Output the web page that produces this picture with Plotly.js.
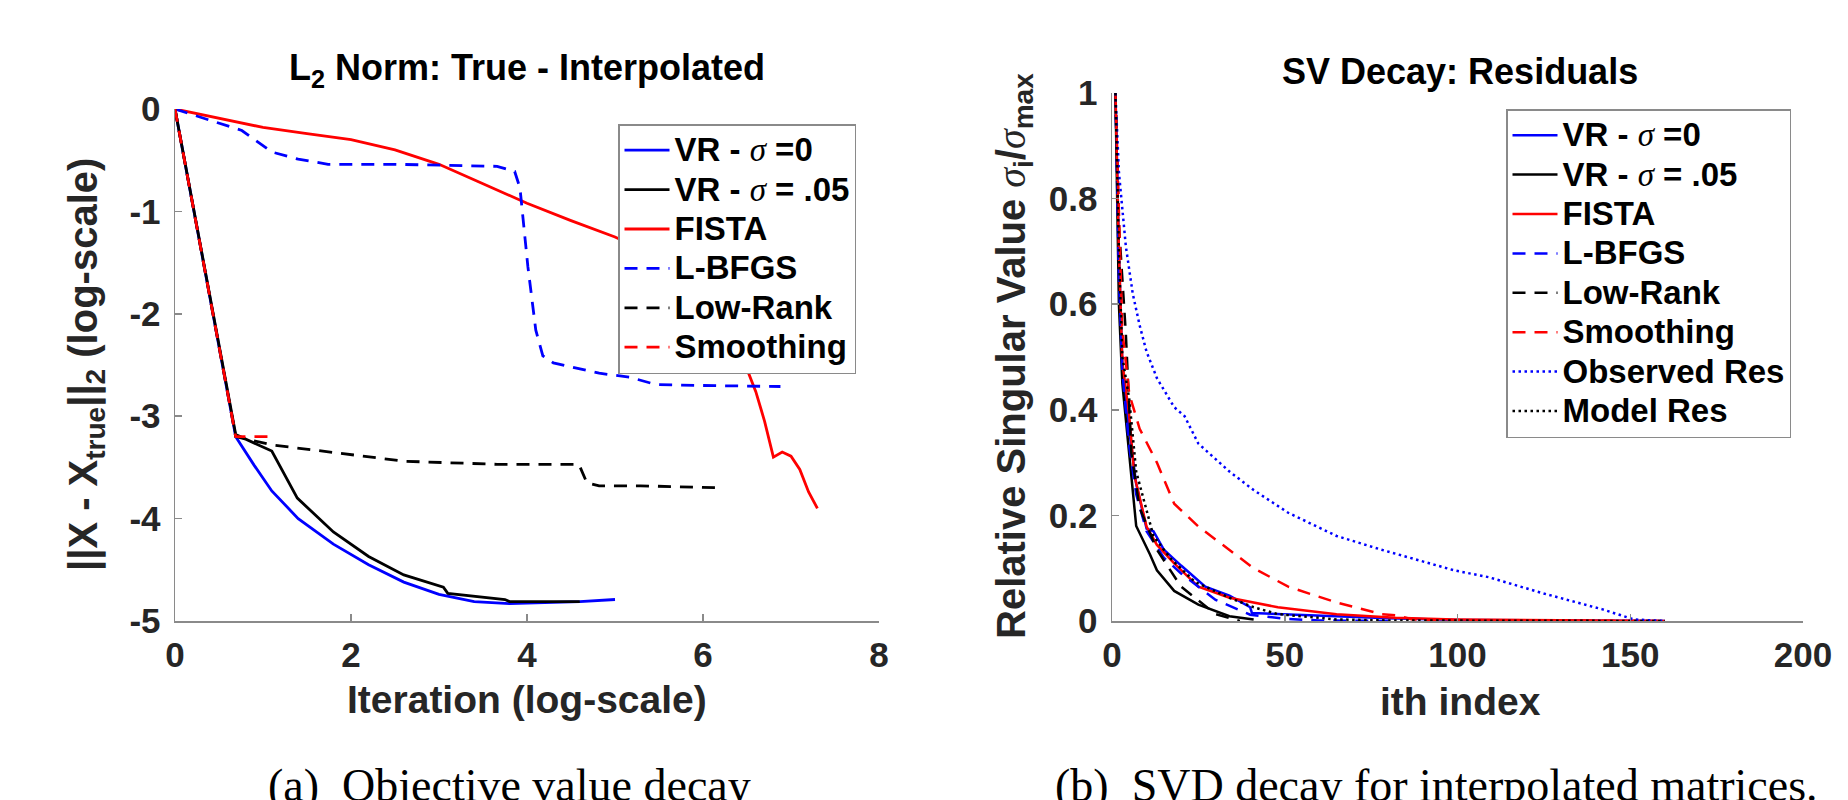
<!DOCTYPE html>
<html>
<head>
<meta charset="utf-8">
<script src="https://cdn.plot.ly/plotly-3.0.1.min.js"></script>
<style>html,body{margin:0;padding:0;background:#fff;}#chart{width:1848px;height:800px;}</style>
</head>
<body>
<div id="chart"></div>
<script>
// ---------- Left panel: L2 norm vs iteration (log-scale) ----------
const vr0X = [0, 0.69, 0.9, 1.1, 1.4, 1.8, 2.2, 2.6, 3.0, 3.4, 3.8, 4.2, 4.6, 5.0];
const vr0Y = [0, -3.2, -3.48, -3.73, -4.0, -4.25, -4.45, -4.62, -4.74, -4.81, -4.83, -4.82, -4.81, -4.79];
const vr05X = [0, 0.69, 1.1, 1.39, 1.8, 2.2, 2.6, 3.0, 3.05, 3.1, 3.5, 3.75, 3.8, 4.6];
const vr05Y = [0, -3.18, -3.34, -3.8, -4.13, -4.37, -4.55, -4.66, -4.67, -4.73, -4.77, -4.79, -4.81, -4.81];
const fistaX = [0, 0.5, 1.0, 1.5, 2.0, 2.5, 3.0, 3.5, 4.0, 4.5, 5.0, 5.5, 6.0, 6.3, 6.5, 6.6, 6.7, 6.8, 6.9, 7.0, 7.1, 7.2, 7.3];
const fistaY = [0, -0.09, -0.18, -0.24, -0.30, -0.40, -0.54, -0.73, -0.92, -1.09, -1.25, -1.45, -1.75, -2.1, -2.53, -2.76, -3.05, -3.40, -3.35, -3.39, -3.52, -3.74, -3.9];
const lbfgsX = [0, 0.35, 0.76, 1.1, 1.4, 1.74, 2.5, 3.66, 3.86, 3.92, 4.01, 4.10, 4.18, 4.30, 4.82, 5.17, 5.46, 5.98, 6.88];
const lbfgsY = [0, -0.10, -0.21, -0.42, -0.49, -0.54, -0.54, -0.56, -0.61, -0.77, -1.54, -2.16, -2.41, -2.48, -2.58, -2.62, -2.69, -2.70, -2.71];
const lowRankX = [0, 0.69, 1.1, 1.92, 2.61, 3.66, 4.59, 4.68, 4.82, 5.29, 6.22];
const lowRankY = [0, -3.2, -3.28, -3.37, -3.44, -3.47, -3.47, -3.65, -3.68, -3.68, -3.70];
const smoothX = [0, 0.69, 1.1];
const smoothY = [0, -3.2, -3.2];
const leftXTicks = [0, 2, 4, 6, 8];
const leftYTicks = [0, -1, -2, -3, -4, -5];
const leftYTickText = ['0', '-1', '-2', '-3', '-4', '-5'];

// ---------- Right panel: SV decay of residuals ----------
const svVr0X = [1, 2, 3, 5, 7, 10, 12, 15, 20, 27, 34, 40, 40.5, 48, 65, 80, 100, 160];
const svVr0Y = [1, 0.7, 0.48, 0.36, 0.26, 0.175, 0.17, 0.135, 0.105, 0.065, 0.048, 0.026, 0.015, 0.013, 0.009, 0.005, 0.002, 0.0];
const svVr05X = [1, 2, 3, 5, 7, 11, 13, 18, 25, 34, 41];
const svVr05Y = [1, 0.6, 0.45, 0.32, 0.18, 0.126, 0.096, 0.057, 0.031, 0.009, 0.003];
const svFistaX = [1, 2, 3, 5, 6.5, 10, 13, 18, 25, 34, 48, 65, 82, 99, 160];
const svFistaY = [1, 0.7, 0.49, 0.388, 0.275, 0.179, 0.144, 0.109, 0.065, 0.044, 0.026, 0.013, 0.006, 0.003, 0.0];
const svLbfgsX = [1, 2, 3, 5, 7, 10, 15, 20, 30, 40, 50, 60, 80];
const svLbfgsY = [1, 0.65, 0.47, 0.33, 0.24, 0.17, 0.12, 0.09, 0.04, 0.012, 0.004, 0.001, 0.0];
const svLowRankX = [1, 2, 4, 5.6, 8, 13, 20, 30, 37];
const svLowRankY = [1, 0.75, 0.545, 0.318, 0.214, 0.135, 0.065, 0.013, 0.0];
const svSmoothX = [1, 2, 3, 5, 8, 13, 18, 25, 34, 41, 51, 65, 78, 82, 87, 100, 160];
const svSmoothY = [1, 0.75, 0.55, 0.43, 0.364, 0.30, 0.222, 0.179, 0.135, 0.10, 0.065, 0.035, 0.013, 0.011, 0.003, 0.001, 0.0];
const svObsX = [1, 2, 4, 6, 8, 10, 13, 18, 21, 25, 34, 41, 51, 65, 78, 87, 99, 109, 125, 142, 151, 160];
const svObsY = [1, 0.85, 0.71, 0.62, 0.56, 0.51, 0.46, 0.405, 0.388, 0.336, 0.283, 0.248, 0.205, 0.161, 0.135, 0.118, 0.096, 0.083, 0.052, 0.022, 0.003, 0.0];
const svModelX = [1, 2, 3, 5, 7, 12, 17, 24, 34, 41, 48, 65, 80, 160];
const svModelY = [1, 0.7, 0.5, 0.42, 0.283, 0.161, 0.118, 0.074, 0.044, 0.026, 0.013, 0.003, 0.001, 0.0];
const rightXTicks = [0, 50, 100, 150, 200];
const rightYTicks = [0, 0.2, 0.4, 0.6, 0.8, 1];
const rightYTickText = ['0', '0.2', '0.4', '0.6', '0.8', '1'];

const SIG = '<span style="font-family:\'Liberation Serif\',serif;font-style:italic;font-weight:normal">σ</span>';
const seriesNames = ['VR - ' + SIG + ' =0', 'VR - ' + SIG + ' = .05', 'FISTA', 'L-BFGS', 'Low-Rank', 'Smoothing', 'Observed Res', 'Model Res'];
const big = s => '<span style="font-size:33px">' + s + '</span>';

const BLUE = '#0000ff', BLACK = '#000000', RED = '#ff0000';
const DASH = '13px,9px', DOT = '2.5px,3.5px';
function tr(x, y, name, color, dash, w, sub) {
  return {
    x: x, y: y, name: big(name), type: 'scatter', mode: 'lines',
    line: {color: color, dash: dash, width: w},
    xaxis: sub ? 'x2' : 'x', yaxis: sub ? 'y2' : 'y',
    legend: sub ? 'legend2' : 'legend', hoverinfo: 'skip'
  };
}
const LW = 2.8, RW = 2.5;
const data = [
  tr(vr0X, vr0Y, seriesNames[0], BLUE, 'solid', LW, false),
  tr(vr05X, vr05Y, seriesNames[1], BLACK, 'solid', LW, false),
  tr(fistaX, fistaY, seriesNames[2], RED, 'solid', LW, false),
  tr(lbfgsX, lbfgsY, seriesNames[3], BLUE, DASH, LW, false),
  tr(lowRankX, lowRankY, seriesNames[4], BLACK, DASH, LW, false),
  tr(smoothX, smoothY, seriesNames[5], RED, DASH, LW, false),
  tr(svVr0X, svVr0Y, seriesNames[0], BLUE, 'solid', RW, true),
  tr(svVr05X, svVr05Y, seriesNames[1], BLACK, 'solid', RW, true),
  tr(svFistaX, svFistaY, seriesNames[2], RED, 'solid', RW, true),
  tr(svLbfgsX, svLbfgsY, seriesNames[3], BLUE, DASH, RW, true),
  tr(svLowRankX, svLowRankY, seriesNames[4], BLACK, DASH, RW, true),
  tr(svSmoothX, svSmoothY, seriesNames[5], RED, DASH, RW, true),
  tr(svObsX, svObsY, seriesNames[6], BLUE, DOT, RW, true),
  tr(svModelX, svModelY, seriesNames[7], BLACK, DOT, RW, true)
];

const FONT = 'Liberation Sans, Arial, sans-serif';
const TXT = '#262626';
const AX = '#8a8a8a';
function axis(extra) {
  return Object.assign({
    showline: true, linecolor: AX, linewidth: 1.5, mirror: false,
    ticks: 'inside', ticklen: 7, tickwidth: 1.5, tickcolor: AX,
    showgrid: false, zeroline: false, fixedrange: true,
    tickfont: {family: FONT, size: 35, color: TXT, weight: 'bold'}
  }, extra);
}
const W = 1848, H = 800;
const px = v => v / W, py = v => 1 - v / H;

const legendStyle = {
  xanchor: 'left', yanchor: 'top',
  bgcolor: '#fff', bordercolor: '#8a8a8a', borderwidth: 1.5,
  font: {family: FONT, size: 28, color: '#000', weight: 'bold'},
  itemwidth: 45, tracegroupgap: 0
};

const layout = {
  width: W, height: H, margin: {l: 0, r: 0, t: 0, b: 0},
  paper_bgcolor: '#fff', plot_bgcolor: '#fff', showlegend: true,
  xaxis: axis({domain: [px(175), px(879)], range: [0, 8], tickvals: leftXTicks, anchor: 'y', ticklabelstandoff: 2}),
  yaxis: axis({domain: [1 - 621 / H, 1 - 109 / H], range: [-5, 0], tickvals: leftYTicks, ticktext: leftYTickText, anchor: 'x', ticklabelstandoff: 6}),
  xaxis2: axis({domain: [px(1112), px(1803)], range: [0, 200], tickvals: rightXTicks, anchor: 'y2', ticklabelstandoff: 2}),
  yaxis2: axis({domain: [1 - 621 / H, 1 - 93 / H], range: [0, 1], tickvals: rightYTicks, ticktext: rightYTickText, anchor: 'x2', ticklabelstandoff: 6}),
  legend: Object.assign({x: px(618), y: py(124)}, legendStyle),
  legend2: Object.assign({x: px(1506), y: py(109)}, legendStyle),
  annotations: [
    {text: 'L<sub>2</sub> Norm: True - Interpolated', xref: 'paper', yref: 'paper', x: px(527), y: py(70), showarrow: false,
     font: {family: FONT, size: 36, color: '#000', weight: 'bold'}, xanchor: 'center', yanchor: 'middle'},
    {text: 'SV Decay: Residuals', xref: 'paper', yref: 'paper', x: px(1460), y: py(71), showarrow: false,
     font: {family: FONT, size: 36, color: '#000', weight: 'bold'}, xanchor: 'center', yanchor: 'middle'},
    {text: 'Iteration (log-scale)', xref: 'paper', yref: 'paper', x: px(527), y: py(699), showarrow: false,
     font: {family: FONT, size: 39, color: TXT, weight: 'bold'}, xanchor: 'center', yanchor: 'middle'},
    {text: 'ith index', xref: 'paper', yref: 'paper', x: px(1460), y: py(701), showarrow: false,
     font: {family: FONT, size: 39, color: TXT, weight: 'bold'}, xanchor: 'center', yanchor: 'middle'},
    {text: '||X - X<sub>true</sub>||<sub>2</sub> (log-scale)', xref: 'paper', yref: 'paper', x: px(86), y: py(365), showarrow: false,
     textangle: -90, font: {family: FONT, size: 40, color: TXT, weight: 'bold'}, xanchor: 'center', yanchor: 'middle'},
    {text: 'Relative Singular Value ' + SIG + '<sub>i</sub>/' + SIG + '<sub>max</sub>', xref: 'paper', yref: 'paper', x: px(1014), y: py(356), showarrow: false,
     textangle: -90, font: {family: FONT, size: 40, color: TXT, weight: 'bold'}, xanchor: 'center', yanchor: 'middle'},
    {text: '(a)  Objective value decay', xref: 'paper', yref: 'paper', x: px(509), y: py(758), showarrow: false,
     font: {family: 'Liberation Serif, Times New Roman, serif', size: 46, color: '#000'}, xanchor: 'center', yanchor: 'top'},
    {text: '(b)  SVD decay for interpolated matrices.', xref: 'paper', yref: 'paper', x: px(1436), y: py(758), showarrow: false,
     font: {family: 'Liberation Serif, Times New Roman, serif', size: 46, color: '#000'}, xanchor: 'center', yanchor: 'top'}
  ]
};

Plotly.newPlot('chart', data, layout, {staticPlot: true, displayModeBar: false});
</script>
</body>
</html>
